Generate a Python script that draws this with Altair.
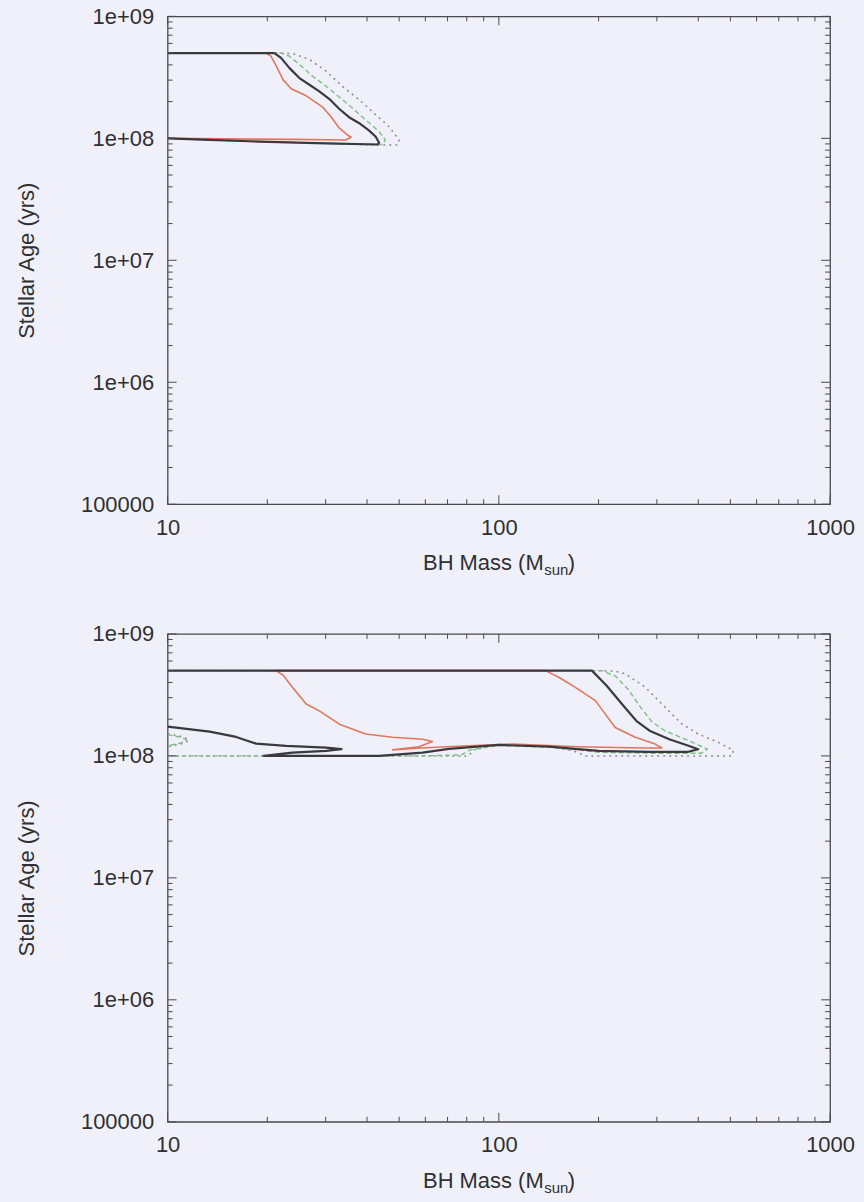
import altair as alt
import pandas as pd

# ---------------- tick positions ----------------
X_MAJOR = [10, 100, 1000]
X_MINOR = [20, 30, 40, 50, 60, 70, 80, 90, 200, 300, 400, 500, 600, 700, 800, 900]
Y_MAJOR = [1e5, 1e6, 1e7, 1e8, 1e9]
Y_MINOR = [2e5, 3e5, 4e5, 5e5, 6e5, 7e5, 8e5, 9e5,
           2e6, 3e6, 4e6, 5e6, 6e6, 7e6, 8e6, 9e6,
           2e7, 3e7, 4e7, 5e7, 6e7, 7e7, 8e7, 9e7,
           2e8, 3e8, 4e8, 5e8, 6e8, 7e8, 8e8, 9e8]

# ---------------- upper panel contours ----------------
TOP_BLACK_MASS = [10, 21.0, 22.0, 23.3, 25.0, 26.8, 28.7, 30.8, 33.0, 35.3, 37.9, 40.6, 42.5, 43.5, 43.0, 30.1, 18.9, 13.4, 10]
TOP_BLACK_AGE = [5.0e8, 5.0e8, 4.57e8, 3.78e8, 3.12e8, 2.75e8, 2.43e8, 2.10e8, 1.74e8, 1.49e8, 1.33e8, 1.157e8, 1.03e8, 9.2e7, 8.9e7, 9.1e7, 9.4e7, 9.7e7, 1.0e8]

TOP_RED_MASS = [10, 19.8, 20.5, 21.3, 22.3, 23.6, 26.2, 29.4, 31.1, 33.0, 34.9, 35.8, 34.5, 24.0, 15.0, 10]
TOP_RED_AGE = [5.0e8, 5.0e8, 4.72e8, 3.90e8, 3.03e8, 2.55e8, 2.23e8, 1.80e8, 1.51e8, 1.21e8, 1.065e8, 1.02e8, 9.7e7, 9.8e7, 9.9e7, 1.0e8]

TOP_GREEN_MASS = [10, 22.0, 23.3, 25.0, 27.4, 30.1, 33.0, 36.1, 39.6, 43.5, 45.4, 44.5, 30.1, 18.9, 10]
TOP_GREEN_AGE = [5.0e8, 5.0e8, 4.72e8, 4.03e8, 3.23e8, 2.67e8, 2.18e8, 1.77e8, 1.42e8, 1.135e8, 9.7e7, 8.9e7, 9.1e7, 9.4e7, 1.0e8]

TOP_GRAY_MASS = [10, 21.5, 23.9, 26.8, 30.1, 33.7, 37.9, 42.5, 46.6, 50.0, 49.4, 43.5, 30.1, 18.9, 10]
TOP_GRAY_AGE = [5.0e8, 5.0e8, 4.95e8, 4.43e8, 3.55e8, 2.67e8, 2.07e8, 1.56e8, 1.25e8, 9.7e7, 8.8e7, 8.8e7, 9.1e7, 9.4e7, 1.0e8]

# ---------------- lower panel contours ----------------
BOT_BLACK_MASS = [10, 13.4, 16.1, 18.5, 22.8, 30.1, 33.5, 30.1, 23.8, 19.5, 30.0, 43.5, 58.8, 70.7, 100, 141.5, 200, 283, 373.6, 400,
                  373.6, 327, 285, 260, 237, 211, 191, 10]
BOT_BLACK_AGE = [1.74e8, 1.58e8, 1.43e8, 1.26e8, 1.21e8, 1.17e8, 1.135e8, 1.10e8, 1.065e8, 1.0e8, 1.0e8, 1.0e8, 1.065e8, 1.14e8, 1.23e8, 1.19e8, 1.10e8, 1.08e8, 1.08e8, 1.135e8,
                 1.21e8, 1.37e8, 1.61e8, 1.94e8, 2.6e8, 3.8e8, 5.0e8, 5.0e8]

BOT_RED_MASS = [21.2, 22.3, 23.8, 26.2, 28.7, 33.0, 39.6, 47.8, 58.8, 63.0, 57.4, 47.8, 55.0, 69.0, 110, 174, 224, 280, 310.5,
                296.5, 258, 224.6, 209.6, 195.5, 170.2, 151.6, 138.2, 21.2]
BOT_RED_AGE = [5.0e8, 4.6e8, 3.65e8, 2.66e8, 2.34e8, 1.82e8, 1.51e8, 1.42e8, 1.37e8, 1.31e8, 1.19e8, 1.12e8, 1.15e8, 1.19e8, 1.25e8, 1.19e8, 1.17e8, 1.16e8, 1.16e8,
               1.25e8, 1.42e8, 1.71e8, 2.20e8, 2.84e8, 3.65e8, 4.41e8, 5.0e8, 5.0e8]

BOT_GREEN_MASS = [10, 205, 225, 246, 268, 290, 318, 375, 426, 409, 300, 200, 150, 100, 82, 77, 60, 10]
BOT_GREEN_AGE = [5.0e8, 5.0e8, 4.5e8, 3.5e8, 2.5e8, 1.9e8, 1.6e8, 1.33e8, 1.135e8, 1.05e8, 1.05e8, 1.07e8, 1.17e8, 1.22e8, 1.12e8, 1.02e8, 1.0e8, 1.0e8]
BOT_GREEN_LOOP_MASS = [10, 11.0, 11.4, 11.0, 10]
BOT_GREEN_LOOP_AGE = [1.49e8, 1.42e8, 1.35e8, 1.28e8, 1.21e8]

BOT_GRAY_MASS = [10, 200, 225, 241, 277, 318, 355, 400, 460, 511, 505, 183, 168, 140, 100, 84, 81, 10]
BOT_GRAY_AGE = [5.0e8, 5.0e8, 4.95e8, 4.7e8, 3.65e8, 2.5e8, 1.85e8, 1.51e8, 1.29e8, 1.11e8, 1.0e8, 1.0e8, 1.1e8, 1.2e8, 1.23e8, 1.12e8, 1.0e8, 1.0e8]
BOT_GRAY_LOOP_MASS = [10, 11.2, 11.6, 11.2, 10]
BOT_GRAY_LOOP_AGE = [1.52e8, 1.43e8, 1.35e8, 1.27e8, 1.19e8]

# ---------------- styling ----------------
W, H = 664, 489
FONT = "Liberation Sans"
TXT = "#303030"
FRAME = "#4a4a4e"
BG = "#eff0f9"
FS = 22

XS = alt.Scale(type="log", domain=[10, 1000])
YS = alt.Scale(type="log", domain=[1e5, 1e9])

x_axis = alt.Axis(values=X_MAJOR, format="d", title=None, ticks=False, domain=False, grid=False,
                  labelFlush=False, labelFont=FONT, labelFontSize=FS, labelColor=TXT, labelPadding=13)
y_axis = alt.Axis(values=Y_MAJOR, title="Stellar Age (yrs)", ticks=False, domain=False, grid=False,
                  labelExpr="datum.value < 5e5 ? '100000' : '1e+0' + format(log(datum.value) / LN10, '.0f')",
                  labelFlush=False, labelFont=FONT, labelFontSize=FS, labelColor=TXT, labelPadding=14,
                  titleFont=FONT, titleFontSize=FS, titleFontWeight="normal", titleColor=TXT, titlePadding=42)


def curve_frame(pieces):
    rows = []
    for pid, (ms, ag) in enumerate(pieces):
        for i, (m, a) in enumerate(zip(ms, ag)):
            rows.append({"piece": pid, "seq": i, "mass": m, "age": a})
    return pd.DataFrame(rows)


def line_layer(pieces, color, width, dash=None):
    props = dict(color=color, strokeWidth=width, clip=True, strokeJoin="round")
    if dash:
        props["strokeDash"] = dash
    return alt.Chart(curve_frame(pieces)).mark_line(**props).encode(
        x=alt.X("mass:Q", scale=XS, axis=x_axis),
        y=alt.Y("age:Q", scale=YS, axis=y_axis),
        detail="piece:N",
        order="seq:Q",
    )


def tick_layers():
    layers = []
    for vals, ln in ((X_MAJOR, 9), (X_MINOR, 5)):
        df = pd.DataFrame({"v": vals})
        for y0, y1 in ((H, H - ln), (0, ln)):
            layers.append(alt.Chart(df).mark_rule(color=FRAME, strokeWidth=1).encode(
                x=alt.X("v:Q", scale=XS, axis=x_axis), y=alt.value(y0), y2=alt.value(y1)))
    for vals, ln in ((Y_MAJOR, 9), (Y_MINOR, 5)):
        df = pd.DataFrame({"v": vals})
        for x0, x1 in ((0, ln), (W, W - ln)):
            layers.append(alt.Chart(df).mark_rule(color=FRAME, strokeWidth=1).encode(
                y=alt.Y("v:Q", scale=YS, axis=y_axis), x=alt.value(x0), x2=alt.value(x1)))
    return layers


def xtitle_layers():
    # "BH Mass (M_sun)" set as three text runs so that "sun" sits as a subscript
    main = alt.Chart(pd.DataFrame({"t": ["BH Mass (M"]})).mark_text(
        align="left", baseline="middle", font=FONT, fontSize=FS, color=TXT
    ).encode(text="t:N", x=alt.value(256), y=alt.value(H + 59))
    sub = alt.Chart(pd.DataFrame({"t": ["sun"]})).mark_text(
        align="left", baseline="middle", font=FONT, fontSize=15, color=TXT
    ).encode(text="t:N", x=alt.value(377.5), y=alt.value(H + 66))
    close = alt.Chart(pd.DataFrame({"t": [")"]})).mark_text(
        align="left", baseline="middle", font=FONT, fontSize=FS, color=TXT
    ).encode(text="t:N", x=alt.value(401), y=alt.value(H + 59))
    return [main, sub, close]


def panel(gray, green, red, black):
    layers = [
        line_layer(gray, "#8a8a98", 1.5, [2, 4]),
        line_layer(green, "#7fbd80", 1.4, [5, 3]),
        line_layer(red, "#e2765c", 1.6),
        line_layer(black, "#3a3a3e", 2.2),
    ] + tick_layers() + xtitle_layers()
    return alt.layer(*layers).properties(width=W, height=H)


top = panel(
    gray=[(TOP_GRAY_MASS, TOP_GRAY_AGE)],
    green=[(TOP_GREEN_MASS, TOP_GREEN_AGE)],
    red=[(TOP_RED_MASS, TOP_RED_AGE)],
    black=[(TOP_BLACK_MASS, TOP_BLACK_AGE)],
)
bottom = panel(
    gray=[(BOT_GRAY_MASS, BOT_GRAY_AGE), (BOT_GRAY_LOOP_MASS, BOT_GRAY_LOOP_AGE)],
    green=[(BOT_GREEN_MASS, BOT_GREEN_AGE), (BOT_GREEN_LOOP_MASS, BOT_GREEN_LOOP_AGE)],
    red=[(BOT_RED_MASS, BOT_RED_AGE)],
    black=[(BOT_BLACK_MASS, BOT_BLACK_AGE)],
)

chart = alt.vconcat(top, bottom, spacing=43).properties(
    background=BG,
    padding={"top": 3, "left": 14, "right": 8, "bottom": 4},
).configure_view(stroke=FRAME, strokeWidth=1.3)

chart.save("out.html", embed_options={"renderer": "svg", "actions": False})
